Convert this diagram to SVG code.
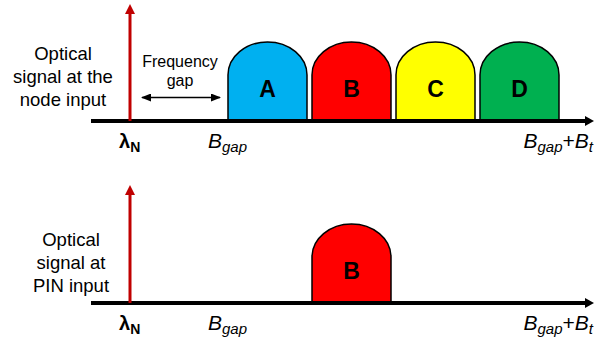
<svg xmlns="http://www.w3.org/2000/svg" width="594" height="340" viewBox="0 0 594 340">
<style>
  text { font-family: "Liberation Sans", Arial, sans-serif; fill: #000; }
  .lbl { font-size: 18.5px; text-anchor: middle; }
  .blk { font-size: 23px; font-weight: bold; text-anchor: middle; }
  .band { stroke: #000; stroke-width: 1.5; }
  .axis { stroke: #000; stroke-width: 4; fill: none; }
  .red { stroke: #C00000; stroke-width: 3; fill: none; }
  .ital { font-style: italic; font-size: 21px; }
  .sub { font-size: 15px; }
  .lam { font-size: 20px; font-weight: bold; }
  .gap { font-size: 16px; text-anchor: middle; }
</style>
<defs>
  <marker id="dh" markerWidth="10" markerHeight="8" refX="9" refY="4" orient="auto-start-reverse" markerUnits="userSpaceOnUse" viewBox="0 0 10 8">
    <path d="M0,0 L10,4 L0,8 Z" fill="#000"/>
  </marker>
</defs>

<!-- top panel -->
<g id="label-top">
  <text class="lbl" x="63" y="60">Optical</text>
  <text class="lbl" x="63" y="83">signal at the</text>
  <text class="lbl" x="63" y="106">node input</text>
</g>
<g id="band-A">
  <path class="band" fill="#00B0F0" d="M228,121 V75 A39.5,33 0 0 1 307,75 V121 Z"/>
  <text class="blk" x="267.5" y="97">A</text>
</g>
<g id="band-B">
  <path class="band" fill="#FF0000" d="M312,121 V75 A39.5,33 0 0 1 391,75 V121 Z"/>
  <text class="blk" x="351.5" y="97">B</text>
</g>
<g id="band-C">
  <path class="band" fill="#FFFF00" d="M396,121 V75 A39.5,33 0 0 1 475,75 V121 Z"/>
  <text class="blk" x="435.5" y="97">C</text>
</g>
<g id="band-D">
  <path class="band" fill="#00B050" d="M480,121 V75 A39.5,33 0 0 1 559,75 V121 Z"/>
  <text class="blk" x="519.5" y="97">D</text>
</g>
<g id="gap-label">
  <text class="gap" x="180" y="67">Frequency</text>
  <text class="gap" x="180" y="86">gap</text>
</g>

<!-- bottom panel -->
<g id="label-bottom">
  <text class="lbl" x="71" y="246">Optical</text>
  <text class="lbl" x="71" y="269">signal at</text>
  <text class="lbl" x="71" y="292">PIN input</text>
</g>
<g id="band-B2">
  <path class="band" fill="#FF0000" d="M312,303 V257 A39.5,33 0 0 1 391,257 V303 Z"/>
  <text class="blk" x="351.5" y="279">B</text>
</g>

<g id="connectors">
  <line class="axis" x1="91" y1="121" x2="586" y2="121"/>
  <path d="M585,116 L594,121 L585,126 Z" fill="#000"/>
  <line class="axis" x1="91" y1="303" x2="586" y2="303"/>
  <path d="M585,298 L594,303 L585,308 Z" fill="#000"/>
  <line class="red" x1="130" y1="121" x2="130" y2="12"/>
  <path d="M125,14 L130,4 L135,14 Z" fill="#C00000"/>
  <line class="red" x1="130" y1="303" x2="130" y2="193"/>
  <path d="M125,195 L130,185 L135,195 Z" fill="#C00000"/>
  <line x1="142" y1="97.5" x2="220" y2="97.5" stroke="#000" stroke-width="1.5" marker-start="url(#dh)" marker-end="url(#dh)"/>
</g>

<g id="axis-labels">
  <text class="lam" x="119" y="148">λ<tspan dy="4" style="font-size:14px">N</tspan></text>
  <text class="ital" x="208" y="148">B<tspan class="sub" dy="4">gap</tspan></text>
  <text class="ital" x="593" y="148" text-anchor="end">B<tspan class="sub" dy="4">gap</tspan><tspan dy="-4" style="font-style:normal">+</tspan>B<tspan class="sub" dy="4">t</tspan></text>
  <text class="lam" x="119" y="330">λ<tspan dy="4" style="font-size:14px">N</tspan></text>
  <text class="ital" x="208" y="330">B<tspan class="sub" dy="4">gap</tspan></text>
  <text class="ital" x="593" y="330" text-anchor="end">B<tspan class="sub" dy="4">gap</tspan><tspan dy="-4" style="font-style:normal">+</tspan>B<tspan class="sub" dy="4">t</tspan></text>
</g>
</svg>
